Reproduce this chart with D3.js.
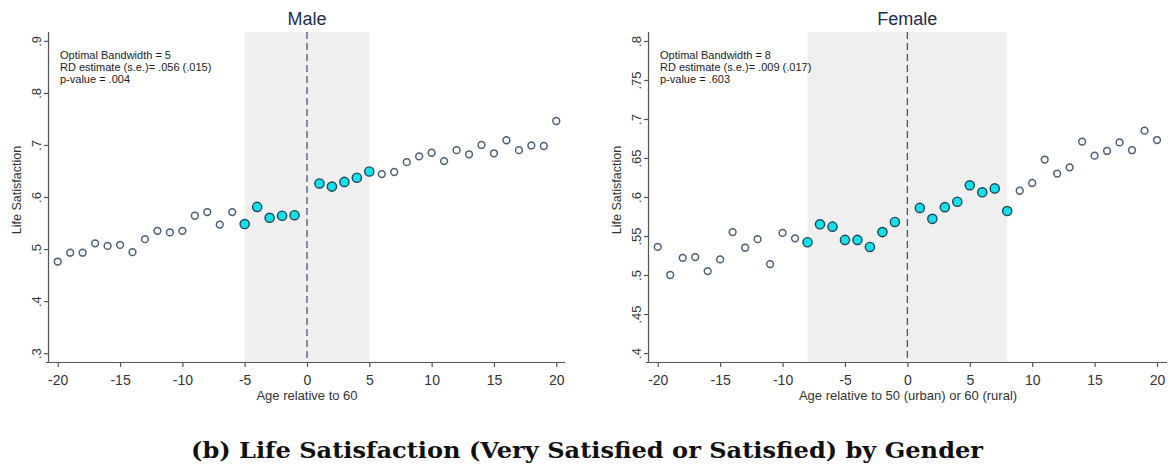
<!DOCTYPE html>
<html>
<head>
<meta charset="utf-8">
<script src="https://cdn.jsdelivr.net/npm/d3@7"></script>
<style>
  html, body { margin: 0; padding: 0; background: #fff; }
  svg { display: block; }
  text { font-family: "Liberation Sans", Arial, sans-serif; }
</style>
</head>
<body>
<svg id="chart" width="1174" height="468"></svg>
<script>
// ---- data ----
const ages = [-20,-19,-18,-17,-16,-15,-14,-13,-12,-11,-10,-9,-8,-7,-6,-5,-4,-3,-2,-1,
              1,2,3,4,5,6,7,8,9,10,11,12,13,14,15,16,17,18,19,20];
const maleValues = [0.476,0.493,0.493,0.511,0.506,0.508,0.494,0.519,0.535,0.532,0.535,0.564,0.571,0.547,0.571,0.548,0.581,0.560,0.564,0.565,
                    0.626,0.620,0.629,0.637,0.649,0.644,0.648,0.667,0.678,0.685,0.669,0.690,0.682,0.700,0.684,0.709,0.690,0.699,0.698,0.746];
const femaleValues = [0.536,0.500,0.522,0.523,0.505,0.520,0.555,0.535,0.546,0.514,0.554,0.547,0.542,0.565,0.562,0.545,0.545,0.536,0.555,0.568,
                      0.586,0.572,0.587,0.594,0.615,0.606,0.611,0.582,0.608,0.618,0.648,0.630,0.638,0.671,0.653,0.659,0.670,0.660,0.685,0.673];
const maleYTicks = [0.3,0.4,0.5,0.6,0.7,0.8,0.9];
const maleYLabels = [".3",".4",".5",".6",".7",".8",".9"];
const femaleYTicks = [0.4,0.45,0.5,0.55,0.6,0.65,0.7,0.75,0.8];
const femaleYLabels = [".4",".45",".5",".55",".6",".65",".7",".75",".8"];
const xTicks = [-20,-15,-10,-5,0,5,10,15,20];
const maleBandwidth = 5;
const femaleBandwidth = 8;
const maleNotes = ["Optimal Bandwidth = 5","RD estimate (s.e.)= .056 (.015)","p-value = .004"];
const femaleNotes = ["Optimal Bandwidth = 8","RD estimate (s.e.)= .009 (.017)","p-value = .603"];
const titles = ["Male","Female"];
const xLabels = ["Age relative to 60","Age relative to 50 (urban) or 60 (rural)"];
const yLabel = "Life Satisfaction";
const caption = "(b) Life Satisfaction (Very Satisfied or Satisfied) by Gender";

const svg = d3.select("#chart");

function panel(cfg) {
  const g = svg.append("g");
  const x = d3.scaleLinear().domain(cfg.xDomain).range([cfg.left, cfg.right]);
  const y = d3.scaleLinear().domain(cfg.yDomain).range([cfg.bottom, cfg.top]);

  // shaded bandwidth
  g.append("rect")
    .attr("x", x(-cfg.bw)).attr("y", cfg.top)
    .attr("width", x(cfg.bw) - x(-cfg.bw)).attr("height", cfg.bottom - cfg.top)
    .attr("fill", "#efefef");

  // cutoff dashed line
  g.append("line")
    .attr("x1", x(0)).attr("x2", x(0)).attr("y1", cfg.top).attr("y2", cfg.bottom)
    .attr("stroke", "#3d5a7a").attr("stroke-width", 1.3).attr("stroke-dasharray", "7,4");

  // y axis
  const yAxis = d3.axisLeft(y).tickValues(cfg.yTicks).tickSize(5)
    .tickFormat((d, i) => cfg.yLabels[i]);
  const ya = g.append("g").attr("transform", `translate(${cfg.left},0)`).call(yAxis);
  ya.select(".domain").attr("d", `M-0.5,${cfg.top}V${cfg.bottom}`).attr("stroke", "#555").attr("stroke-width", 1.2);
  ya.selectAll(".tick line").attr("stroke", "#555").attr("stroke-width", 1.2);
  ya.selectAll(".tick text")
    .attr("x", null).attr("dy", null)
    .attr("transform", "translate(-13,0) rotate(-90)")
    .attr("text-anchor", "middle")
    .attr("dominant-baseline", "central")
    .attr("font-size", 13).attr("fill", "#333")
    .style("font-family", "Liberation Sans, Arial, sans-serif");

  // x axis
  const xAxis = d3.axisBottom(x).tickValues(xTicks).tickSize(5).tickFormat(d3.format("d"));
  const xa = g.append("g").attr("transform", `translate(0,${cfg.bottom})`).call(xAxis);
  xa.select(".domain").attr("d", `M${cfg.left - 3},0.5H${cfg.right}`).attr("stroke", "#555").attr("stroke-width", 1.2);
  xa.selectAll(".tick line").attr("stroke", "#555").attr("stroke-width", 1.2);
  xa.selectAll(".tick text").attr("y", 10).attr("dy", "0.9em")
    .attr("font-size", 14).attr("fill", "#333")
    .style("font-family", "Liberation Sans, Arial, sans-serif")
    .text(d => d < 0 ? "-" + Math.abs(d) : d);

  // points
  const data = ages.map((a, i) => ({a, v: cfg.values[i]}));
  const inBw = d => Math.abs(d.a) <= cfg.bw;
  g.selectAll("circle.o").data(data.filter(d => !inBw(d))).join("circle")
    .attr("class", "o")
    .attr("cx", d => x(d.a)).attr("cy", d => y(d.v)).attr("r", 3.4)
    .attr("fill", "#fff").attr("stroke", "#4a5f78").attr("stroke-width", 1.5);
  g.selectAll("circle.f").data(data.filter(inBw)).join("circle")
    .attr("class", "f")
    .attr("cx", d => x(d.a)).attr("cy", d => y(d.v)).attr("r", 4.6)
    .attr("fill", "#14e0ec").attr("stroke", "#1d4656").attr("stroke-width", 1.4);

  // notes
  const nt = g.append("text").attr("x", cfg.left + 11).attr("y", 59)
    .attr("font-size", 11).attr("fill", "#222");
  cfg.notes.forEach((t, i) => nt.append("tspan").attr("x", cfg.left + 11).attr("y", 59 + i * 11.8).text(t));

  // title
  g.append("text").attr("x", x(0)).attr("y", 25).attr("text-anchor", "middle")
    .attr("font-size", 18).attr("fill", "#1c2e4c").text(cfg.title);

  // x label
  g.append("text").attr("x", (cfg.left + cfg.right) / 2).attr("y", 400).attr("text-anchor", "middle")
    .attr("font-size", 13).attr("fill", "#333").text(cfg.xLabel);

  // y label
  g.append("text").attr("transform", `translate(${cfg.left - 32},${190}) rotate(-90)`)
    .attr("text-anchor", "middle").attr("dominant-baseline", "central")
    .attr("font-size", 12.5).attr("fill", "#333").text(yLabel);
}

panel({
  left: 49, right: 565, top: 32, bottom: 362,
  xDomain: [-20.7, 20.7], yDomain: [0.283, 0.917],
  yTicks: maleYTicks, yLabels: maleYLabels, values: maleValues,
  bw: maleBandwidth, notes: maleNotes, title: titles[0], xLabel: xLabels[0]
});
panel({
  left: 649, right: 1167, top: 32, bottom: 362,
  xDomain: [-20.7, 20.8], yDomain: [0.3885, 0.8115],
  yTicks: femaleYTicks, yLabels: femaleYLabels, values: femaleValues,
  bw: femaleBandwidth, notes: femaleNotes, title: titles[1], xLabel: xLabels[1]
});

// caption
svg.append("text").attr("x", 587).attr("y", 458).attr("text-anchor", "middle")
  .attr("font-size", 22).attr("font-weight", "bold").attr("fill", "#111")
  .style("font-family", "'DejaVu Serif', 'Liberation Serif', serif")
  .attr("textLength", 792).attr("lengthAdjust", "spacingAndGlyphs")
  .text(caption);
</script>
</body>
</html>
